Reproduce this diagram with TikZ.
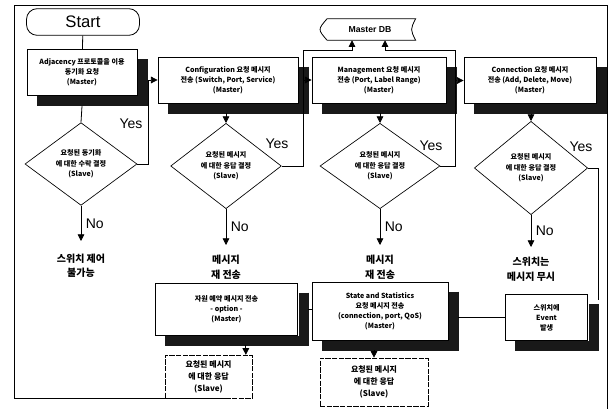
\documentclass[tikz,border=0pt]{standalone}
\usepackage{fontspec}
\setmainfont{Liberation Sans}
\newfontfamily\kr{Noto Sans CJK KR}
\usetikzlibrary{shapes.geometric,arrows.meta,calc}
\definecolor{shadowc}{RGB}{25,25,25}
\begin{document}
\begin{tikzpicture}[x=0.75pt,y=-0.75pt,
  box/.style={draw, fill=white, line width=0.6pt, align=center, inner sep=1pt,
    font=\kr\bfseries\fontsize{5.3}{7.6}\selectfont},
  shad/.style={draw=shadowc, line width=7.5pt, line cap=butt, line join=miter},
  resp/.style={draw, fill=white, line width=0.5pt, dash pattern=on 4pt off 1pt, align=center, inner sep=1pt,
    font=\kr\bfseries\fontsize{6}{9}\selectfont},
  dia/.style={diamond, draw, line width=0.5pt, align=center, inner sep=0pt,
    font=\kr\bfseries\fontsize{5.3}{7.8}\selectfont},
  outtxt/.style={align=center, font=\kr\bfseries\fontsize{7.5}{11}\selectfont},
  lbl/.style={font=\fontsize{10.5}{12}\selectfont},
  arr/.style={-{Triangle[length=5pt,width=5pt]}, line width=0.6pt},
  ln/.style={line width=0.6pt}]
\useasboundingbox (0,0) rectangle (616,409);
% frame
\draw[ln] (230,398) -- (14,398) -- (14,5) -- (607,5) -- (607,409);
% nodes
\node[draw, line width=0.6pt, rounded corners=8pt, minimum width=84.75pt, minimum height=20pt,
  font=\fontsize{12.5}{14}\selectfont] (start) at (83,22) {Start};
\node[box, minimum width=82.5pt, minimum height=34.5pt] (adj) at (82,72.5)
  {Adjacency 프로토콜을 이용\\동기화 요청\\(Master)};
\node[box, minimum width=105pt, minimum height=34.5pt] (conf) at (228,80)
  {Configuration 요청 메시지\\전송 (Switch, Port, Service)\\(Master)};
\node[inner sep=0pt, minimum width=72pt, minimum height=15.75pt,
  font=\bfseries\fontsize{6.5}{8}\selectfont] (db) at (370,29.5) {Master DB};
\draw[ln] ([xshift=4pt]db.north west) -- ([xshift=-2pt]db.north east)
  .. controls ([xshift=-6pt]db.east) .. ([xshift=-2pt]db.south east)
  -- ([xshift=4pt]db.south west)
  .. controls ([xshift=-3pt]db.west) .. ([xshift=4pt]db.north west);
\node[box, minimum width=100.5pt, minimum height=34.5pt] (mgmt) at (379,80)
  {Management 요청 메시지\\전송 (Port, Label Range)\\(Master)};
\node[box, minimum width=99pt, minimum height=34pt] (conn) at (530,80.5)
  {Connection 요청 메시지\\전송 (Add, Delete, Move)\\(Master)};
\node[dia, minimum width=84pt, minimum height=62pt] (d1) at (81,164)
  {요청된 동기화\\에 대한 수락 결정\\(Slave)};
\node[dia, minimum width=83pt, minimum height=64pt] (d2) at (226,166)
  {요청된 메시지\\에 대한 응답 결정\\(Slave)};
\node[dia, minimum width=90pt, minimum height=64pt] (d3) at (380,166)
  {요청된 메시지\\에 대한 응답 결정\\(Slave)};
\node[dia, minimum width=85pt, minimum height=70pt] (d4) at (531,168)
  {요청된 메시지\\에 대한 응답 결정\\(Slave)};
\node[box, minimum width=107pt, minimum height=39pt] (rsv) at (226.5,309)
  {자원 예약 메시지 전송\\- option -\\(Master)};
\node[box, minimum width=102pt, minimum height=43.5pt] (state) at (380,311)
  {State and Statistics\\요청 메시지 전송\\(connection, port, QoS)\\(Master)};
\node[box, minimum width=62pt, minimum height=34pt] (event) at (546.5,317.5)
  {스위치에\\Event\\발생};
\node[resp, minimum width=65pt, minimum height=32pt] (r1) at (208.5,376.5)
  {요청된 메시지\\에 대한 응답\\(Slave)};
\node[resp, minimum width=81pt, minimum height=36pt] (r2) at (374,382)
  {요청된 메시지\\에 대한 응답\\(Slave)};
% shadows as thick L-shaped strokes on the right and bottom of each box
\foreach \bx in {adj,conf,mgmt,conn,rsv,state,event}
  \draw[shad] ([shift={(5.3,10)}]\bx.north east) -- ([shift={(5.3,5.3)}]\bx.south east)
    -- ([shift={(10,5.3)}]\bx.south west);
% coordinates
\coordinate (n1) at (81,241);
\coordinate (n2) at (226,245);
\coordinate (n3) at (380,245);
\coordinate (n4) at (531,247);
\coordinate (j1) at (148,164);
\coordinate (j2) at (303,166);
\coordinate (k2) at (303,50);
\coordinate (j3) at (455,166);
\coordinate (k3) at (455,50);
\coordinate (j4) at (598,168);
\coordinate (e4) at (598,300);
% connectors
\draw[ln] (start) -- (adj);
\draw[ln] (adj.south) ++(0,10) -- (d1.north);
\draw[arr] (conf.south -| d2) ++(0,10) -- (d2.north);
\draw[arr] (mgmt.south -| d3) ++(0,10) -- (d3.north);
\draw[arr] (conn.south -| d4) ++(0,10) -- (d4.north);
\draw[arr] (d1.east) -- (j1) |- (conf.west);
\draw[ln] (d2.east) -- (j2) -- (k2);
\draw[arr] (j2 |- mgmt.west) -- (mgmt.west);
\draw[arr] (k2) -| ([xshift=-13.5pt]db.south);
\draw[ln] (d3.east) -- (j3) -- (k3);
\draw[arr] (j3 |- conn.west) -- (conn.west);
\draw[arr] (k3) -| ([xshift=11.25pt]db.south);
\draw[ln] (d4.east) -- (j4) -- (e4);
\draw[arr] (d1.south) -- node[right, lbl]{No} (n1);
\draw[arr] (d2.south) -- node[right, lbl]{No} (n2);
\draw[arr] (d3.south) -- node[right, lbl]{No} (n3);
\draw[arr] (d4.south) -- node[right, lbl]{No} (n4);
\node[lbl] (y1) at (131,124) {Yes};
\node[lbl] (y2) at (277,144) {Yes};
\node[lbl] (y3) at (431,146) {Yes};
\node[lbl] (y4) at (581,147) {Yes};
\node[outtxt, anchor=north] (t1) at ([yshift=-6pt]n1) {스위치 제어\\불가능};
\node[outtxt, anchor=north] (t2) at ([yshift=-4pt]n2) {메시지\\재 전송};
\node[outtxt, anchor=north] (t3) at ([yshift=-4pt]n3) {메시지\\재 전송};
\node[outtxt, anchor=north] (t4) at ([yshift=-4pt]n4) {스위치는\\메시지 무시};
\draw[ln] (rsv.east) ++(10,0) -- (state.west |- rsv.east);
\draw[ln] (state.east |- event.west) ++(10,0) -- (event.west);
\draw[arr] ([xshift=14.5pt,yshift=-7.5pt]rsv.south) -- ([xshift=14.5pt]rsv.south |- r1.north);
\draw[arr] ([xshift=-4.5pt,yshift=-7.5pt]state.south) -- ([xshift=-4.5pt]state.south |- r2.north);
\end{tikzpicture}
\end{document}
